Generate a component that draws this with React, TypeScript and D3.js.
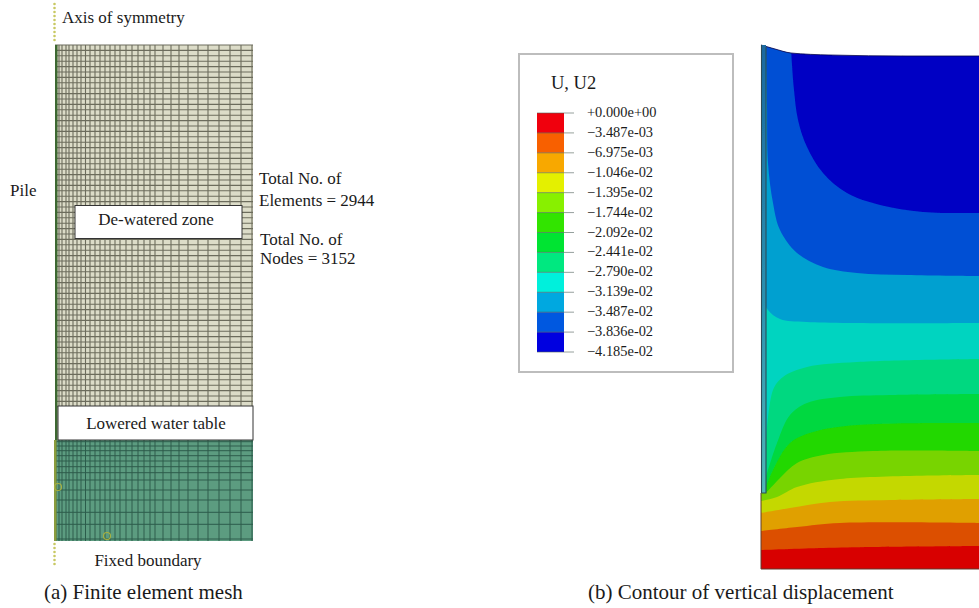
import React from "react";
import * as d3 from "d3";

const W = 979, H = 608;
const FONT = "'Liberation Serif','Times New Roman',serif";

// Mesh grid (model units: offset from the mesh's top-left corner)
const meshColumns = [1, 4, 7, 11, 14, 18, 22, 26, 30.5, 35, 40, 45, 50, 55, 60, 65, 71, 77, 83, 89, 95, 100, 108, 116, 124, 133, 143, 153, 164, 175, 186, 197];
const meshRowsUpper = [0, 5.4, 10.8, 16.2, 21.6, 27, 32.4, 37.8, 43.2, 48.6, 54, 59.4, 64.8, 70.2, 75.6, 81, 86.4, 91.8, 97.2, 102.6, 108, 113.4, 118.8, 124.2, 129.6, 135, 140.4, 145.8, 151.2, 156.6, 162, 167.4, 172.8, 178.2, 183.6, 189, 194.4, 199.8, 205.2, 210.6, 216, 221.4, 226.8, 232.2, 237.6, 243, 248.4, 253.8, 259.2, 264.6, 270, 275.4, 280.8, 286.2, 291.6, 297, 302.4, 307.8, 313.2, 318.6, 324, 329.4, 334.8, 340.2, 345.6, 351, 356.4, 361.8];
const meshRowsLower = [396.7, 401, 405.7, 410.7, 416, 421.7, 427.7, 435, 445, 455, 467.3, 479.3, 494];
const meshWidth = 198;
const meshHeight = 496;
const meshSaturatedFrom = 395;

// Legend
const legendLabels = ["+0.000e+00", "\u22123.487e-03", "\u22126.975e-03", "\u22121.046e-02", "\u22121.395e-02", "\u22121.744e-02", "\u22122.092e-02", "\u22122.441e-02", "\u22122.790e-02", "\u22123.139e-02", "\u22123.487e-02", "\u22123.836e-02", "\u22124.185e-02"];
const legendColors = ["#f00008", "#f86000", "#f8a800", "#e4f000", "#88f000", "#30e400", "#00e430", "#00e880", "#00f0dc", "#00a8e0", "#0058e0", "#0000e0"];

// Contour (model units: radial offset from the axis, depth from the pile head)
type P = [number, number];
const domainWidth = 218;
const domainDepth = 524;
const surface: P[] = [[0, 0], [14, 4], [30, 8], [69, 10], [146, 11], [218, 11]];
const contourColors = ["#0000c4", "#0050d4", "#00a0d0", "#00d4c0", "#00d880", "#00d840", "#20d800", "#78d400", "#c4d800", "#e0a000", "#dc5000", "#d80000"];
const contourLines: P[][] = [
  [[0, -4], [218, -4]],
  [[30, 0], [31, 20], [33, 45], [37, 75], [46, 102], [62, 128], [86, 148], [119, 160], [162, 167], [218, 168]],
  [[5, 0], [6, 60], [7, 118], [12, 158], [19, 185], [36, 208], [62, 222], [96, 228], [146, 230], [218, 231]],
  [[0, 250], [7, 265], [19, 274], [46, 277], [218, 278]],
  [[4, 410], [12, 345], [22, 332], [46, 322], [96, 317], [218, 314]],
  [[4, 435], [16, 398], [29, 370], [46, 358], [79, 352], [129, 350], [218, 349]],
  [[4, 445], [12, 425], [29, 398], [52, 387], [96, 380], [218, 378]],
  [[5, 448], [19, 433], [36, 418], [62, 410], [112, 406], [218, 406]],
  [[0, 456], [16, 452], [36, 442], [79, 434], [218, 430]],
  [[0, 468], [29, 463], [69, 457], [129, 455], [218, 454]],
  [[0, 486], [36, 482], [79, 478], [218, 478]],
  [[0, 505], [62, 503], [112, 502], [218, 501]],
];
const pileDepth = 448;
const pileWidth = 5;

const xMesh = d3.scaleLinear().domain([0, meshWidth]).range([55, 253]);
const yMesh = d3.scaleLinear().domain([0, meshHeight]).range([45, 541]);
const xC = d3.scaleLinear().domain([0, domainWidth]).range([761, 979]);
const yC = d3.scaleLinear().domain([0, domainDepth]).range([45, 569]);
const yLegend = d3.scaleLinear().domain([0, 12]).range([113, 352]);

const contourPath = d3.line<P>().x(d => xC(d[0])).y(d => yC(d[1])).curve(d3.curveCatmullRom.alpha(0.5));
const surfacePath = d3.line<P>().x(d => xC(d[0])).y(d => yC(d[1])).curve(d3.curveMonotoneX);

function band(points: P[]): string {
  const first = points[0], last = points[points.length - 1];
  return `${contourPath(points)}L${xC(domainWidth)},${yC(last[1])}L${xC(domainWidth)},${yC(domainDepth)}L${xC(0)},${yC(domainDepth)}L${xC(0)},${yC(first[1])}Z`;
}
const clipShape = `${surfacePath(surface)}L${xC(domainWidth)},${yC(domainDepth)}L${xC(0)},${yC(domainDepth)}Z`;

const T = ({ x, y, s = 17, a = "start", children }: any) => (
  <text x={x} y={y} fontSize={s} textAnchor={a} fill="#1a1a1a" fontFamily={FONT}>{children}</text>
);

export default function App() {
  const dots = [4, 8, 12, 16, 20, 24, 28, 32, 36, 40];
  const dotsLow = [544, 548, 552, 556, 560, 564];
  return (
    <svg width={W} height={H} viewBox={`0 0 ${W} ${H}`} style={{ position: "absolute", left: 0, top: 0, background: "#fff", display: "block" }}>
      <defs>
        <filter id="soft" x="-5%" y="-5%" width="110%" height="110%"><feGaussianBlur stdDeviation="0.55" /></filter>
        <linearGradient id="pileFill" x1="0" y1="0" x2="0" y2="1">
          <stop offset="0" stopColor="#1a6aa0" />
          <stop offset="0.55" stopColor="#2a90b0" />
          <stop offset="1" stopColor="#50b8b8" />
        </linearGradient>
        <clipPath id="domainClip"><path d={clipShape} /></clipPath>
      </defs>

      {/* Panel (a): mesh */}
      <g filter="url(#soft)">
        <rect x={xMesh(0)} y={yMesh(0)} width={meshWidth} height={meshSaturatedFrom} fill="#dcdcc8" />
        <rect x={xMesh(0)} y={yMesh(meshSaturatedFrom)} width={meshWidth} height={meshHeight - meshSaturatedFrom} fill="#5c9c80" />
        {meshColumns.map((c, i) => (
          <g key={i}>
            <line x1={xMesh(c)} x2={xMesh(c)} y1={yMesh(0)} y2={yMesh(meshSaturatedFrom)} stroke="#6c6c5c" strokeWidth={1.1} />
            <line x1={xMesh(c)} x2={xMesh(c)} y1={yMesh(meshSaturatedFrom)} y2={yMesh(meshHeight)} stroke="#2c5c4c" strokeWidth={1} />
          </g>
        ))}
        {meshRowsUpper.map((r, i) => (
          <line key={i} x1={xMesh(0)} x2={xMesh(meshWidth)} y1={yMesh(r)} y2={yMesh(r)} stroke="#6c6c5c" strokeWidth={1.1} />
        ))}
        {meshRowsLower.map((r, i) => (
          <line key={i} x1={xMesh(0)} x2={xMesh(meshWidth)} y1={yMesh(r)} y2={yMesh(r)} stroke="#2c5c4c" strokeWidth={1} />
        ))}
        <rect x={xMesh(0)} y={yMesh(0)} width={2.5} height={meshSaturatedFrom} fill="#3c6830" />
        <rect x={xMesh(0) - 1} y={yMesh(meshSaturatedFrom)} width={2.5} height={meshHeight - meshSaturatedFrom} fill="#8a9c3c" />
        {dots.map(d => <circle key={d} cx={54.5} cy={d} r={1.3} fill="#c8c864" />)}
        {dotsLow.map(d => <circle key={d} cx={54.5} cy={d} r={1.3} fill="#c8c864" />)}
        <circle cx={58} cy={487} r={3.5} fill="none" stroke="#a8b040" strokeWidth={1.2} />
        <circle cx={107} cy={536} r={3.5} fill="none" stroke="#a8b040" strokeWidth={1.2} />
      </g>

      <rect x={75} y={205.5} width={167} height={33} fill="#fff" stroke="#333" strokeWidth={1} />
      <rect x={58} y={406} width={195} height={34} fill="#fff" stroke="#333" strokeWidth={1} />

      <T x={62} y={23}>Axis of symmetry</T>
      <T x={10} y={196}>Pile</T>
      <T x={259} y={184}>Total No. of</T>
      <T x={259} y={206}>Elements = 2944</T>
      <T x={260} y={245}>Total No. of</T>
      <T x={260} y={264}>Nodes = 3152</T>
      <T x={156} y={225} a="middle">De-watered zone</T>
      <T x={156} y={429} a="middle">Lowered water table</T>
      <T x={148} y={566} a="middle">Fixed boundary</T>
      <T x={44} y={599} s={21}>(a) Finite element mesh</T>
      <T x={588} y={599} s={21}>(b) Contour of vertical displacement</T>

      {/* Legend */}
      <rect x={519} y={54} width={214} height={318} fill="#fff" stroke="#bdbdbd" strokeWidth={2} filter="url(#soft)" />
      <T x={551} y={89} s={18.5}>U, U2</T>
      <g filter="url(#soft)">
        {legendColors.map((c, i) => (
          <rect key={i} x={537} y={yLegend(i)} width={27} height={yLegend(i + 1) - yLegend(i)} fill={c} />
        ))}
        {legendLabels.map((_, i) => (
          <line key={i} x1={537} x2={574} y1={yLegend(i)} y2={yLegend(i)} stroke="#50605c" strokeOpacity={0.6} strokeWidth={1} />
        ))}
      </g>
      {legendLabels.map((l, i) => (
        <T key={i} x={587} y={yLegend(i) + 4} s={14.4}>{l}</T>
      ))}

      {/* Panel (b): contour */}
      <g filter="url(#soft)">
        <g clipPath="url(#domainClip)">
          {contourLines.map((pts, i) => (
            <path key={i} d={band(pts)} fill={contourColors[i]} />
          ))}
        </g>
        <path d={`${surfacePath(surface)}`} fill="none" stroke="#10104c" strokeWidth={0.8} />
        <rect x={xC(0) + 1} y={yC(0)} width={pileWidth - 1} height={pileDepth} fill="url(#pileFill)" />
        <path d={`M${xC(0) + 0.5},${yC(0)}V${yC(pileDepth)}M${xC(pileWidth)},${yC(2)}V${yC(pileDepth)}H${xC(0) + 0.5}`} fill="none" stroke="#2c4c58" strokeWidth={1.1} />
        <path d={`M${xC(0)},${yC(pileDepth)}V${yC(domainDepth)}H${xC(domainWidth)}`} fill="none" stroke="#603c30" strokeWidth={1} />
      </g>
    </svg>
  );
}
